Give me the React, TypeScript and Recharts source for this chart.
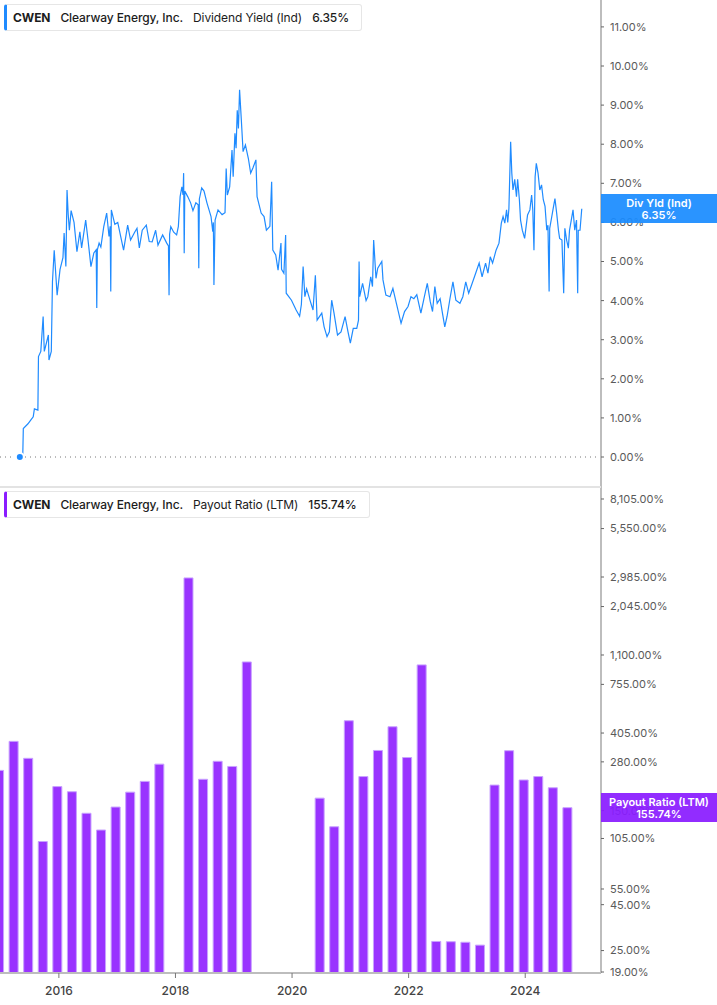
import React from 'react';
import {
  Bar,
  ComposedChart,
  Line,
  LineChart,
  ReferenceLine,
  XAxis,
  YAxis,
} from 'recharts';

// Dividend yield (Ind), %
const yieldDates = [
  2015.33, 2015.38, 2015.39, 2015.47, 2015.52, 2015.56, 2015.58, 2015.64, 2015.65, 2015.69,
  2015.73, 2015.75, 2015.82, 2015.83, 2015.87, 2015.89, 2015.92, 2015.97, 2016.02, 2016.07,
  2016.09, 2016.12, 2016.14, 2016.16, 2016.18, 2016.21, 2016.26, 2016.31, 2016.36, 2016.39,
  2016.46, 2016.5, 2016.55, 2016.6, 2016.64, 2016.65, 2016.66, 2016.69, 2016.72, 2016.77,
  2016.82, 2016.86, 2016.88, 2016.89, 2016.9, 2016.96, 2017.01, 2017.06, 2017.11, 2017.18,
  2017.23, 2017.3, 2017.34, 2017.38, 2017.43, 2017.5, 2017.55, 2017.6, 2017.66, 2017.7,
  2017.78, 2017.85, 2017.88, 2017.89, 2017.9, 2017.92, 2017.97, 2018.02, 2018.05, 2018.08,
  2018.11, 2018.13, 2018.14, 2018.15, 2018.16, 2018.21, 2018.26, 2018.3, 2018.35, 2018.39,
  2018.4, 2018.41, 2018.45, 2018.49, 2018.54, 2018.61, 2018.64, 2018.65, 2018.66, 2018.68,
  2018.73, 2018.8, 2018.85, 2018.87, 2018.89, 2018.93, 2018.97, 2018.99, 2019.02, 2019.04,
  2019.06, 2019.08, 2019.1, 2019.13, 2019.16, 2019.2, 2019.25, 2019.29, 2019.33, 2019.38,
  2019.4, 2019.47, 2019.52, 2019.56, 2019.62, 2019.65, 2019.67, 2019.72, 2019.76, 2019.81,
  2019.82, 2019.86, 2019.89, 2019.9, 2019.99, 2020.07, 2020.13, 2020.16, 2020.19, 2020.22,
  2020.25, 2020.31, 2020.36, 2020.4, 2020.43, 2020.51, 2020.55, 2020.6, 2020.64, 2020.68,
  2020.72, 2020.78, 2020.84, 2020.91, 2020.96, 2021.0, 2021.05, 2021.11, 2021.14, 2021.15,
  2021.16, 2021.21, 2021.27, 2021.3, 2021.35, 2021.38, 2021.4, 2021.44, 2021.47, 2021.54,
  2021.56, 2021.61, 2021.68, 2021.73, 2021.79, 2021.87, 2021.93, 2021.99, 2022.04, 2022.09,
  2022.14, 2022.21, 2022.27, 2022.32, 2022.37, 2022.41, 2022.45, 2022.49, 2022.54, 2022.58,
  2022.62, 2022.66, 2022.71, 2022.76, 2022.81, 2022.88, 2022.93, 2022.98, 2023.03, 2023.08,
  2023.15, 2023.21, 2023.26, 2023.32, 2023.36, 2023.4, 2023.44, 2023.5, 2023.55, 2023.59,
  2023.62, 2023.65, 2023.68, 2023.7, 2023.72, 2023.75, 2023.77, 2023.79, 2023.82, 2023.85,
  2023.87, 2023.9, 2023.92, 2023.95, 2023.99, 2024.04, 2024.08, 2024.11, 2024.13, 2024.15,
  2024.17, 2024.19, 2024.22, 2024.25, 2024.28, 2024.31, 2024.34, 2024.37, 2024.39, 2024.41,
  2024.42, 2024.45, 2024.48, 2024.51, 2024.54, 2024.57, 2024.59, 2024.63, 2024.66, 2024.68,
  2024.71, 2024.74, 2024.76, 2024.79, 2024.82, 2024.85, 2024.88, 2024.9, 2024.91, 2024.94,
  2024.97,
];
const yieldValues = [
  0, 0, 0.73, 0.85, 0.95, 1.03, 1.23, 1.2, 2.57, 2.7,
  3.59, 2.7, 3.12, 2.48, 2.7, 4.48, 5.29, 4.14, 4.8, 5.1,
  5.73, 4.87, 6.83, 6.2, 5.8, 6.3, 6.0, 5.25, 5.76, 5.35,
  6.06, 5.55, 4.87, 5.22, 5.3, 3.81, 5.3, 5.47, 5.37, 5.89,
  6.24, 5.64, 5.9, 4.23, 6.32, 5.95, 6.0, 5.64, 5.29, 5.93,
  5.55, 5.75, 5.85, 5.35, 5.8, 5.93, 5.51, 5.5, 5.8, 5.42,
  5.68, 5.47, 5.4, 4.14, 5.7, 5.89, 5.75, 5.68, 5.9, 6.66,
  6.91, 6.7, 7.26, 5.21, 6.8, 6.66, 6.5, 6.3, 6.5, 6.45,
  4.83, 6.6, 6.88, 6.8, 6.5, 6.15, 5.76, 6.0, 4.4, 6.06,
  6.32, 6.2, 6.25, 7.38, 6.7, 6.91, 7.85, 7.17, 8.28, 7.9,
  8.87, 8.4, 9.39, 8.62, 7.81, 7.98, 7.64, 7.26, 7.4, 7.6,
  6.66, 6.24, 6.15, 5.8, 5.9, 7.04, 5.29, 5.17, 4.78, 5.47,
  4.8, 4.7, 5.68, 4.19, 4.01, 3.76, 3.6, 3.9, 4.87, 4.1,
  4.3, 4.0, 3.76, 4.65, 3.5, 3.68, 3.33, 3.08, 3.2, 4.01,
  3.68, 3.12, 3.2, 3.59, 3.2, 2.91, 3.29, 3.29, 3.5, 5.0,
  4.1, 4.44, 4.0, 4.1, 4.61, 4.36, 5.55, 4.57, 4.83, 5.0,
  4.53, 4.14, 4.1, 4.31, 3.93, 3.42, 3.72, 3.85, 4.1, 4.05,
  4.15, 3.68, 4.1, 4.44, 3.98, 3.72, 4.36, 3.93, 4.05, 3.68,
  3.33, 3.6, 4.06, 4.48, 4.01, 3.93, 4.1, 4.48, 4.19, 4.4,
  4.7, 4.96, 4.61, 4.96, 4.7, 5.12, 4.96, 5.29, 5.47, 5.98,
  6.15, 5.98, 6.32, 6.0, 6.35, 8.06, 7.26, 6.83, 7.1, 6.66,
  7.1, 6.58, 6.06, 5.8, 5.59, 6.19, 6.32, 6.7, 6.32, 5.29,
  7.17, 7.51, 7.26, 6.83, 6.96, 6.58, 6.41, 5.8, 5.93, 4.23,
  5.85, 6.1, 6.36, 6.61, 6.23, 5.8, 5.59, 5.55, 4.19, 5.85,
  5.55, 5.34, 5.8, 6.06, 6.32, 5.8, 6.06, 4.19, 5.8, 5.8,
  6.35,
];

// Payout ratio (LTM), %, one bar per quarter (null = no bar)
const payoutQuarters = [
  '2014 Q4', '2015 Q1', '2015 Q2', '2015 Q3', '2015 Q4', '2016 Q1', '2016 Q2', '2016 Q3',
  '2016 Q4', '2017 Q1', '2017 Q2', '2017 Q3', '2017 Q4', '2018 Q1', '2018 Q2', '2018 Q3',
  '2018 Q4', '2019 Q1', '2019 Q2', '2019 Q3', '2019 Q4', '2020 Q1', '2020 Q2', '2020 Q3',
  '2020 Q4', '2021 Q1', '2021 Q2', '2021 Q3', '2021 Q4', '2022 Q1', '2022 Q2', '2022 Q3',
  '2022 Q4', '2023 Q1', '2023 Q2', '2023 Q3', '2023 Q4', '2024 Q1', '2024 Q2', '2024 Q3',
];
const payoutValues = [
  251, 364, 293, 101, 204, 191, 145, 117,
  157, 190, 218, 272, null, 2950, 224, 282,
  264, 1006, null, null, null, null, 176, 122,
  474, 232, 324, 439, 296, 969, 28.1, 28.0,
  27.8, 26.8, 208, 323, 222, 232, 201, 155.74,
];

const yearTicks = [2016, 2018, 2020, 2022, 2024];
const yieldTicks = [0, 1, 2, 3, 4, 5, 6, 7, 8, 9, 10, 11];
const payoutTicks = [19, 25, 45, 55, 105, 150, 280, 405, 755, 1100, 2045, 2985, 5550, 8105];

const W = 717;
const AXIS_W = 116;
const TOP_H = 487;
const BOTTOM_H = 518;
const XAXIS_H = 32;
const X_DOMAIN: [number, number] = [2014.99, 2025.3];
const YIELD_DOMAIN: [number, number] = [-0.767, 11.688];
const PAYOUT_DOMAIN: [number, number] = [18.76, 9450];

const BLUE = '#1f8bff';
const PURPLE = '#9933ff';
const AXIS_GREY = '#bdbdbd';

const yieldData = yieldDates.map((date, i) => ({ date, v: yieldValues[i] }));
const payoutData = payoutQuarters.map((q, i) => {
  const [y, qq] = q.split(' Q');
  return { date: Number(y) + Number(qq) * 0.25 - 0.03, p: payoutValues[i] };
});

const lastYield = yieldValues[yieldValues.length - 1];
const lastPayout = payoutValues[payoutValues.length - 1] as number;

// pixel position of a value inside each panel (same domains as the axes)
const yieldToPx = (v: number) =>
  (TOP_H * (YIELD_DOMAIN[1] - v)) / (YIELD_DOMAIN[1] - YIELD_DOMAIN[0]);
const payoutToPx = (v: number) =>
  ((BOTTOM_H - XAXIS_H) * (Math.log10(PAYOUT_DOMAIN[1]) - Math.log10(v))) /
  (Math.log10(PAYOUT_DOMAIN[1]) - Math.log10(PAYOUT_DOMAIN[0]));

const fmtPct = (v: number) =>
  v.toLocaleString('en-US', { minimumFractionDigits: 2, maximumFractionDigits: 2 }) + '%';

function LegendBox({ color, metric, value }: { color: string; metric: string; value: string }) {
  return (
    <div
      style={{
        position: 'absolute',
        left: 4,
        top: 4,
        height: 25,
        display: 'flex',
        alignItems: 'center',
        gap: 10,
        padding: '0 12px 0 6px',
        background: '#fff',
        border: '1px solid #e6e6e6',
        borderLeft: `3px solid ${color}`,
        borderRadius: 3,
        fontSize: 12,
        letterSpacing: -0.1,
        color: '#1c1c1c',
        whiteSpace: 'nowrap',
      }}
    >
      <span style={{ fontWeight: 700 }}>CWEN</span>
      <span style={{ fontWeight: 500 }}>Clearway Energy, Inc.</span>
      <span>{metric}</span>
      <span style={{ fontWeight: 500 }}>{value}</span>
    </div>
  );
}

function Badge({ color, top, label, value }: { color: string; top: number; label: string; value: string }) {
  return (
    <div
      style={{
        position: 'absolute',
        left: W - AXIS_W,
        top: top - 14.5,
        width: AXIS_W,
        height: 29,
        background: color,
        color: '#fff',
        fontSize: 11,
        fontWeight: 600,
        lineHeight: '12px',
        textAlign: 'center',
        display: 'flex',
        flexDirection: 'column',
        justifyContent: 'center',
      }}
    >
      <span>{label}</span>
      <span>{value}</span>
    </div>
  );
}

export default function App() {
  const tick = { fontSize: 11, fill: '#5a5a5a' };
  return (
    <div style={{ position: 'relative', width: W, height: TOP_H + BOTTOM_H, fontFamily: 'Inter, sans-serif' }}>
      <style>{'body{margin:0;background:#fff}'}</style>

      <div style={{ position: 'absolute', left: 0, top: 0 }}>
        <LineChart width={W} height={TOP_H} data={yieldData} margin={{ top: 0, right: 0, bottom: 0, left: 0 }}>
          <XAxis dataKey='date' type='number' domain={X_DOMAIN} ticks={yearTicks} allowDataOverflow hide />
          <YAxis
            orientation='right'
            width={AXIS_W}
            domain={YIELD_DOMAIN}
            allowDataOverflow
            ticks={yieldTicks}
            interval={0}
            tickFormatter={fmtPct}
            axisLine={{ stroke: AXIS_GREY, strokeWidth: 2 }}
            tickLine={{ stroke: '#666' }}
            tickSize={3}
            tickMargin={6}
            tick={tick}
          />
          <ReferenceLine y={0} stroke='#777' strokeDasharray='1 4' />
          <Line
            type='linear'
            dataKey='v'
            stroke={BLUE}
            strokeWidth={1.2}
            dot={false}
            isAnimationActive={false}
          />
        </LineChart>
      </div>

      <div style={{ position: 'absolute', left: 0, top: TOP_H }}>
        <ComposedChart width={W} height={BOTTOM_H} data={payoutData} margin={{ top: 0, right: 0, bottom: 0, left: 0 }}>
          <XAxis
            dataKey='date'
            type='number'
            domain={X_DOMAIN}
            ticks={yearTicks}
            interval={0}
            allowDataOverflow
            height={XAXIS_H}
            axisLine={{ stroke: AXIS_GREY, strokeWidth: 2 }}
            tickLine={{ stroke: '#777' }}
            tickSize={5}
            tickMargin={8}
            tick={{ fontSize: 12, fill: '#444', fontWeight: 500 }}
          />
          <YAxis
            orientation='right'
            width={AXIS_W}
            scale='log'
            domain={PAYOUT_DOMAIN}
            allowDataOverflow
            ticks={payoutTicks}
            interval={0}
            tickFormatter={fmtPct}
            axisLine={{ stroke: AXIS_GREY, strokeWidth: 2 }}
            tickLine={{ stroke: '#666' }}
            tickSize={3}
            tickMargin={6}
            tick={tick}
          />
          <Bar dataKey='p' fill={PURPLE} stroke='#c8a2ff' strokeWidth={1} barSize={9} isAnimationActive={false} />
        </ComposedChart>
      </div>

      {/* panel divider */}
      <div style={{ position: 'absolute', left: 0, top: TOP_H - 1, width: W - AXIS_W, height: 2, background: '#e3e3e3' }} />

      <LegendBox color={BLUE} metric='Dividend Yield (Ind)' value={fmtPct(lastYield)} />
      <div style={{ position: 'absolute', left: 0, top: TOP_H }}>
        <LegendBox color='#8a1cff' metric='Payout Ratio (LTM)' value={fmtPct(lastPayout)} />
      </div>

      <Badge color='rgba(26,140,255,0.93)' top={yieldToPx(lastYield)} label='Div Yld (Ind)' value={fmtPct(lastYield)} />
      <Badge
        color='rgba(138,28,255,0.93)'
        top={TOP_H + payoutToPx(lastPayout)}
        label='Payout Ratio (LTM)'
        value={fmtPct(lastPayout)}
      />
    </div>
  );
}
